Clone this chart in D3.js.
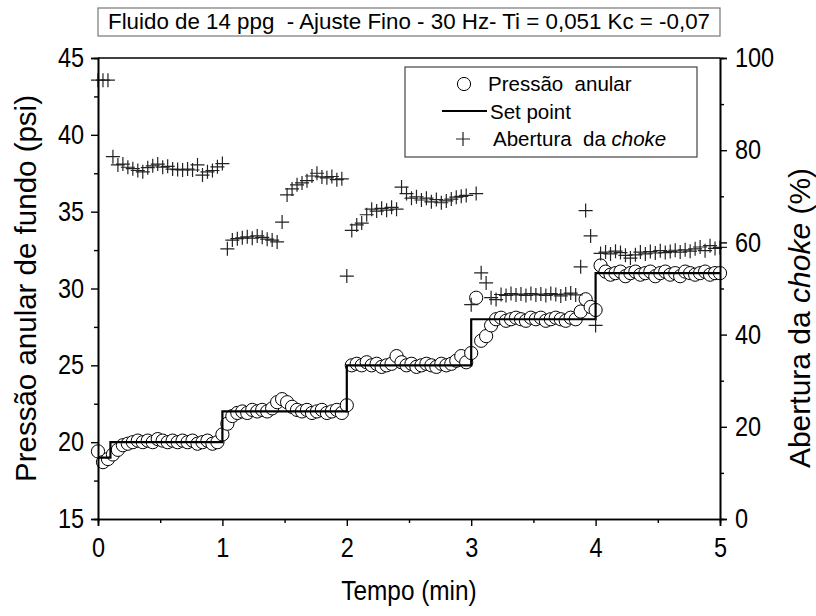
<!DOCTYPE html>
<html><head><meta charset="utf-8">
<script src="https://cdn.jsdelivr.net/npm/d3@7"></script>
<style>
html,body{margin:0;padding:0;background:#fff;}
svg text{font-family:"Liberation Sans",Arial,sans-serif;fill:#000;white-space:pre;}
</style></head>
<body><svg id="c" width="816" height="616"></svg>
<script>
const title = "Fluido de 14 ppg  - Ajuste Fino - 30 Hz- Ti = 0,051 Kc = -0,07";
const xLabel = "Tempo (min)";
const yLeftLabel = "Pressão anular de fundo (psi)";
const xTicks = [0,1,2,3,4,5];
const xMinor = [0.5,1.5,2.5,3.5,4.5];
const yLeftTicks = [15,20,25,30,35,40,45];
const yLeftMinor = [17.5,22.5,27.5,32.5,37.5,42.5];
const yRightTicks = [0,20,40,60,80,100];
const yRightMinor = [10,30,50,70,90];

const time = [0.00,0.04,0.08,0.12,0.16,0.20,0.24,0.28,0.32,0.36,0.40,0.44,0.48,0.52,0.56,0.60,0.64,0.68,0.72,0.76,0.80,0.84,0.88,0.92,0.96,
1.00,1.04,1.08,1.12,1.16,1.20,1.24,1.28,1.32,1.36,1.40,1.44,1.48,1.52,1.56,1.60,1.64,1.68,1.72,1.76,1.80,1.84,1.88,1.92,1.96,
2.00,2.04,2.08,2.12,2.16,2.20,2.24,2.28,2.32,2.36,2.40,2.44,2.48,2.52,2.56,2.60,2.64,2.68,2.72,2.76,2.80,2.84,2.88,2.92,2.96,
3.00,3.04,3.08,3.12,3.16,3.20,3.24,3.28,3.32,3.36,3.40,3.44,3.48,3.52,3.56,3.60,3.64,3.68,3.72,3.76,3.80,3.84,3.88,3.92,3.96,
4.00,4.04,4.08,4.12,4.16,4.20,4.24,4.28,4.32,4.36,4.40,4.44,4.48,4.52,4.56,4.60,4.64,4.68,4.72,4.76,4.80,4.84,4.88,4.92,4.96,5.00];

const pressure = [19.4,18.7,18.9,19.2,19.5,19.8,19.9,20.0,20.1,20.0,20.1,20.0,20.2,20.1,20.0,20.1,20.0,20.1,20.0,20.1,19.9,20.0,20.1,19.9,20.0,
20.5,21.2,21.7,21.9,22.0,21.9,22.1,22.0,22.1,22.0,22.2,22.6,22.8,22.6,22.3,22.1,22.0,22.1,21.9,22.0,22.1,21.9,22.0,22.1,21.9,
22.4,25.0,25.1,25.0,25.2,25.0,25.1,24.9,25.0,25.1,25.6,25.2,25.0,25.1,24.9,25.0,25.1,25.0,24.9,25.1,25.0,25.1,25.3,25.6,25.2,
25.8,29.4,26.6,26.9,27.6,28.0,28.1,27.9,28.0,28.1,28.0,27.9,28.1,28.0,28.1,27.9,28.0,28.1,28.0,27.9,28.1,28.0,28.5,29.3,28.8,
28.6,31.5,31.1,30.9,31.0,31.1,30.8,31.0,31.1,30.9,31.0,31.1,30.8,31.0,31.1,30.9,31.0,30.8,31.1,31.0,30.9,31.0,31.1,30.9,31.0,31.0];

const choke = [95.2,95.2,95.2,78.6,76.8,77.0,76.3,76.0,75.6,75.3,76.2,76.6,77.0,76.3,76.5,75.9,75.8,75.7,75.9,75.7,76.8,74.6,75.3,75.6,76.4,
77.1,58.6,60.5,60.8,61.0,61.2,60.9,61.4,61.1,60.7,60.5,60.1,64.4,70.3,71.6,72.5,72.9,73.4,74.4,75.0,74.2,74.0,74.3,73.6,73.8,
52.7,62.6,63.8,64.2,66.0,67.2,66.8,67.4,67.0,67.6,67.2,72.0,70.6,69.6,69.9,69.2,69.6,68.8,69.3,68.6,69.0,69.4,69.8,70.0,70.2,
46.5,70.6,53.4,51.2,48.0,47.6,48.7,48.5,48.9,48.6,48.8,48.5,48.9,48.6,48.8,48.5,48.9,48.7,48.4,48.8,49.0,48.6,54.7,66.9,61.4,
42.0,57.6,57.9,57.5,58.1,57.8,57.2,56.6,57.3,57.9,57.5,58.0,57.7,58.2,57.8,58.0,58.3,57.9,58.4,58.1,58.6,59.0,58.2,59.3,58.7,58.9];

const spTime = [0,0.1,1,2,3,4,5];
const spValue = [19,20,22,25,28,31,31];

const legendNames = ["Pressão  anular","Set point","Abertura  da "];

const svg = d3.select("#c");
const L=98,R=720,T=58,B=519;
const SQ = 0.87; // horizontal condensation of the original lettering
const x = d3.scaleLinear().domain([0,5]).range([L,R]);
const yL = d3.scaleLinear().domain([15,45]).range([B,T]);
const yR = d3.scaleLinear().domain([0,100]).range([B,T]);

// title box
svg.append("rect").attr("x",L).attr("y",8).attr("width",R-L).attr("height",28)
  .attr("fill","#fff").attr("stroke","#777").attr("stroke-width",1.2);
svg.append("text").attr("x",(L+R)/2).attr("y",29).attr("text-anchor","middle")
  .attr("font-size",22).attr("textLength",602).attr("lengthAdjust","spacingAndGlyphs").text(title);

// data: circles
const g = svg.append("g");
g.selectAll("circle.p").data(time).join("circle").attr("class","p")
  .attr("cx",(d)=>x(d)).attr("cy",(d,i)=>yL(pressure[i])).attr("r",6.6)
  .attr("fill","#fff").attr("stroke","#000").attr("stroke-width",1);

// set point
const sp = spTime.map((t,i)=>[t,spValue[i]]);
g.append("path").datum(sp).attr("fill","none").attr("stroke","#000").attr("stroke-width",2.2)
  .attr("d",d3.line().x(d=>x(d[0])).y(d=>yL(d[1])).curve(d3.curveStepAfter));

// crosses
g.selectAll("path.c").data(time).join("path").attr("class","c")
  .attr("transform",(d,i)=>`translate(${x(d)},${yR(choke[i])})`)
  .attr("d","M-7,0H7M0,-7V7").attr("stroke","#222").attr("stroke-width",1.2).attr("fill","none");

// axes
function styleAxis(sel){sel.select(".domain").attr("stroke","#000").attr("stroke-width",1.6);
  sel.selectAll(".tick line").attr("stroke","#000").attr("stroke-width",1.4);
  sel.selectAll("text").attr("font-size",27).attr("font-family","Liberation Sans, Arial, sans-serif");}
const aL = svg.append("g").attr("transform",`translate(${L},0)`).call(d3.axisLeft(yL).tickValues(yLeftTicks).tickSize(7).tickFormat(d3.format("d"))).call(styleAxis);
aL.selectAll("text").attr("x",-14/SQ).attr("transform",`scale(${SQ},1)`);
svg.append("g").attr("transform",`translate(${L},0)`).call(d3.axisLeft(yL).tickValues(yLeftMinor).tickSize(4).tickFormat("")).call(styleAxis);
const aR = svg.append("g").attr("transform",`translate(${R},0)`).call(d3.axisRight(yR).tickValues(yRightTicks).tickSize(7).tickFormat(d3.format("d"))).call(styleAxis);
aR.selectAll("text").attr("x",15/SQ).attr("transform",`scale(${SQ},1)`);
svg.append("g").attr("transform",`translate(${R},0)`).call(d3.axisRight(yR).tickValues(yRightMinor).tickSize(4).tickFormat("")).call(styleAxis);
const aB = svg.append("g").attr("transform",`translate(0,${B})`).call(d3.axisBottom(x).tickValues(xTicks).tickSize(7).tickFormat(d3.format("d"))).call(styleAxis);
aB.selectAll("text").attr("y",38).attr("dy",null).attr("transform",`scale(${SQ},1)`);
svg.append("g").attr("transform",`translate(0,${B})`).call(d3.axisBottom(x).tickValues(xMinor).tickSize(4).tickFormat("")).call(styleAxis);
svg.append("line").attr("x1",L).attr("x2",R).attr("y1",T).attr("y2",T).attr("stroke","#000").attr("stroke-width",1.6);

// axis titles
svg.append("text").attr("transform",`translate(${(L+R)/2},600) scale(${SQ},1)`).attr("text-anchor","middle").attr("font-size",28).text(xLabel);
svg.append("text").attr("transform",`translate(36,${(T+B)/2}) rotate(-90)`).attr("text-anchor","middle").attr("font-size",29.5).text(yLeftLabel);
const rt = svg.append("text").attr("transform",`translate(810,318) rotate(-90)`).attr("text-anchor","middle").attr("font-size",30);
rt.append("tspan").text("Abertura da ");
rt.append("tspan").attr("font-style","italic").text("choke");
rt.append("tspan").text(" (%)");

// legend
const lg = svg.append("g");
lg.append("rect").attr("x",405).attr("y",67).attr("width",292).attr("height",90)
  .attr("fill","#fff").attr("stroke","#444").attr("stroke-width",1.2);
lg.append("circle").attr("cx",464).attr("cy",84).attr("r",6.6).attr("fill","#fff").attr("stroke","#000");
lg.append("text").attr("x",488).attr("y",91).attr("font-size",20.5).text(legendNames[0]);
lg.append("line").attr("x1",442).attr("x2",487).attr("y1",111).attr("y2",111).attr("stroke","#000").attr("stroke-width",2.2);
lg.append("text").attr("x",490).attr("y",119).attr("font-size",20.5).text(legendNames[1]);
lg.append("path").attr("transform","translate(463,139)").attr("d","M-7,0H7M0,-7V7").attr("stroke","#222").attr("stroke-width",1.2);
const lt = lg.append("text").attr("x",493).attr("y",146).attr("font-size",20.5);
lt.append("tspan").text(legendNames[2]);
lt.append("tspan").attr("font-style","italic").text("choke");
</script></body></html>
